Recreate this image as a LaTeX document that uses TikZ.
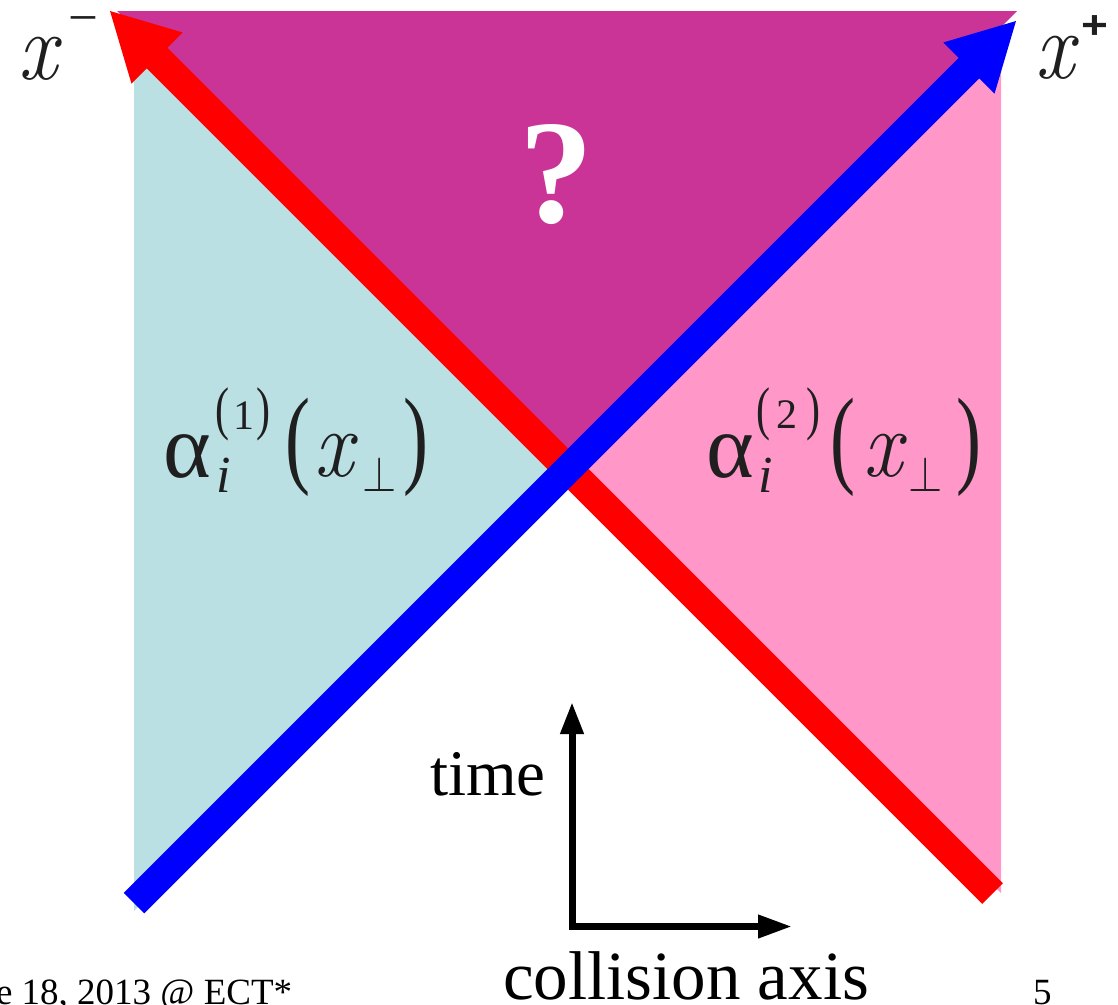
\documentclass[tikz,border=0pt]{standalone}
\usepackage{fontspec}
\setmainfont{Liberation Serif}
\newfontfamily\plusfont{Liberation Sans}
\newfontfamily\xfont{Latin Modern Roman}
\usetikzlibrary{arrows.meta}
\definecolor{regpurple}{RGB}{201,52,150}
\definecolor{regcyan}{RGB}{186,224,228}
\definecolor{regpink}{RGB}{255,151,201}
\newcommand{\fs}[1]{\fontsize{#1}{#1}\selectfont}
\newcommand{\perpglyph}{\fontsize{10}{10}\selectfont\scalebox{4.4}[5.0]{$\perp$}}
\newcommand{\xglyph}{\scalebox{0.9}[1]{x}}
\tikzset{
  lbl/.style={inner sep=0pt, outer sep=0pt, text=black!88},
  xlbl/.style={lbl, font=\xfont\itshape\fs{96}},
  beam/.style={line width=29pt},
  axisline/.style={line width=7pt, black, miter limit=10}
}
\begin{document}
\begin{tikzpicture}[x=1pt,y=-1pt]
\useasboundingbox (0,0) rectangle (1118,1004);
% regions
\fill[regpurple] (117,11) -- (1017,11) -- (567,461) -- cycle;
\fill[regcyan] (134,30) -- (568,467) -- (134,911) -- cycle;
\fill[regpink] (1001,30) -- (568,467) -- (1001,893) -- cycle;
% beams
\coordinate (redS) at (992.5,893.5);
\coordinate (redE) at (109,10);
\coordinate (blueS) at (134,903);
\coordinate (blueE) at (1017,20);
\draw[beam, red, -{Triangle[length=68pt,width=67pt]}] (redS) -- (redE);
\draw[beam, blue, -{Triangle[length=68pt,width=67pt]}] (blueS) -- (blueE);
% question mark
\node[lbl, text=white, font=\fs{148}\bfseries] (q) at (556,175) {?};
% x^- and x^+
\node[xlbl] (xm) at (37.5,58.5) {\xglyph};
\node[lbl, anchor=base, font=\fs{53}] (xmminus) at (83,35) {−};
\node[xlbl] (xp) at (1055,58) {\xglyph};
\node[lbl, anchor=base, font=\plusfont\bfseries\fs{46}] (xpplus) at (1095,38) {\scalebox{1}[0.85]{+}};
% left label alpha_i^(1)(x_perp)
\node[lbl, font=\fs{91}] (a1) at (187.5,456) {α};
\node[lbl, font=\fs{42}] (a1sl) at (222,414.5) {\scalebox{1}[1.4]{(}};
\node[lbl, font=\fs{42}] (a1n) at (244,416) {1};
\node[lbl, font=\fs{42}] (a1sr) at (263,414.5) {\scalebox{1}[1.4]{)}};
\node[lbl, font=\fs{52}\itshape] (a1i) at (224,475) {i};
\node[lbl, font=\fs{75}] (a1bl) at (297.5,447.5) {\scalebox{1}[1.45]{(}};
\node[xlbl] (a1x) at (333.5,456) {\xglyph};
\node[lbl] (a1p) at (380,474.5) {\perpglyph};
\node[lbl, font=\fs{75}] (a1br) at (415.5,447.5) {\scalebox{1}[1.45]{)}};
% right label alpha_i^(2)(x_perp)
\node[lbl, font=\fs{91}] (a2) at (730,456) {α};
\node[lbl, font=\fs{42}] (a2sl) at (763,414.5) {\scalebox{1}[1.4]{(}};
\node[lbl, font=\fs{42}] (a2n) at (787,415) {2};
\node[lbl, font=\fs{42}] (a2sr) at (813,414.5) {\scalebox{1}[1.4]{)}};
\node[lbl, font=\fs{52}\itshape] (a2i) at (766,475) {i};
\node[lbl, font=\fs{75}] (a2bl) at (842.5,447.5) {\scalebox{1}[1.45]{(}};
\node[xlbl] (a2x) at (883,456) {\xglyph};
\node[lbl] (a2p) at (926,474.5) {\perpglyph};
\node[lbl, font=\fs{75}] (a2br) at (968.5,447.5) {\scalebox{1}[1.45]{)}};
% axes
\coordinate (ttip) at (572,702);
\coordinate (corner) at (572,926.5);
\coordinate (atip) at (792,926.5);
\draw[axisline, {Triangle[length=32pt,width=22pt]}-{Triangle[length=34pt,width=22pt]}] (ttip) -- (corner) -- (atip);
\node[lbl, text=black, anchor=base west, font=\fs{65}] (time) at (430,795) {time};
\node[lbl, text=black, anchor=base west, font=\fs{69}] (coll) at (503,999) {collision axis};
% footer
\node[lbl, text=black, anchor=base west, font=\fs{37}] (date) at (-4,1004) {e 18, 2013 @ ECT*};
\node[lbl, text=black, anchor=base west, font=\fs{37}] (page) at (1033,1004) {5};
\end{tikzpicture}
\end{document}
